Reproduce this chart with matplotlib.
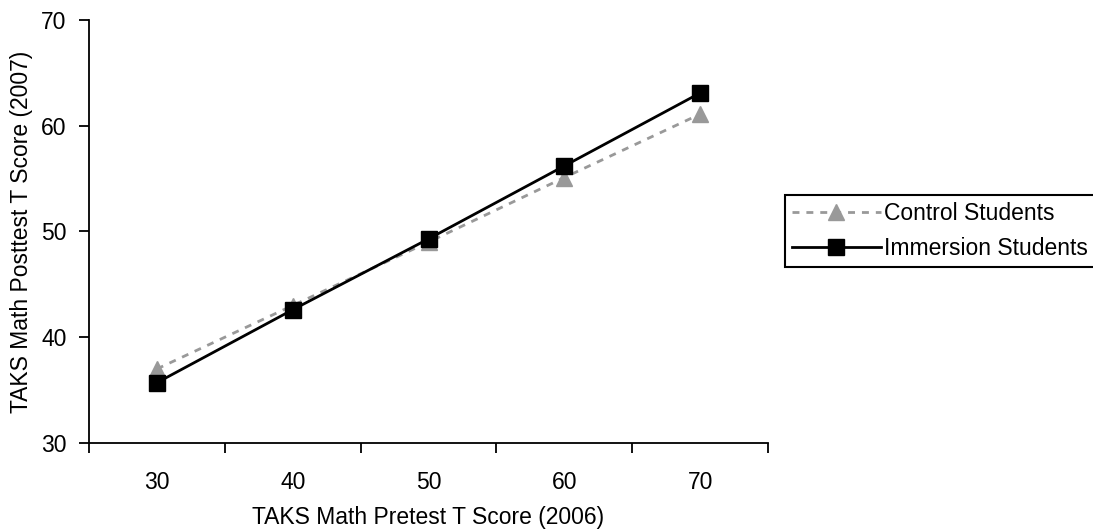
import matplotlib
matplotlib.use('Agg')
import matplotlib.pyplot as plt

# datos
pretest = ['30', '40', '50', '60', '70']
control = [37.0, 43.0, 49.0, 55.1, 61.1]
inmersion = [35.7, 42.6, 49.3, 56.2, 63.1]

plt.rcParams['font.family'] = ['Liberation Sans', 'DejaVu Sans']
plt.rcParams['font.size'] = 16.5

fig = plt.figure(figsize=(10.93, 5.29), dpi=100)
ax = fig.add_axes([0.0814, 0.1626, 0.6213, 0.7996])

x = list(range(len(pretest)))
ax.plot(x, control, color='#999999', linestyle=(0, (2.5, 2.5)), linewidth=2,
        marker='^', markersize=11, label='Control Students')
ax.plot(x, inmersion, color='black', linewidth=2,
        marker='s', markersize=11, label='Immersion Students')

ax.set_xlim(-0.5, len(pretest) - 0.5)
ax.set_ylim(30, 70)
ax.set_yticks([30, 40, 50, 60, 70])

# eje de categorias: marcas entre categorias, etiquetas centradas
ax.set_xticks([i - 0.5 for i in range(len(pretest) + 1)])
ax.set_xticklabels([])
ax.set_xticks(x, minor=True)
ax.set_xticklabels(pretest, minor=True)
ax.tick_params(axis='x', which='major', length=7, width=1.3, direction='out')
ax.tick_params(axis='x', which='minor', length=0, pad=20)
ax.tick_params(axis='y', length=7, width=1.3, direction='out', pad=9)

for lado in ['top', 'right']:
    ax.spines[lado].set_visible(False)
for lado in ['left', 'bottom']:
    ax.spines[lado].set_linewidth(1.3)

ax.set_xlabel('TAKS Math Pretest T Score (2006)', labelpad=9)
ax.set_ylabel('TAKS Math Posttest T Score (2007)', labelpad=6)

leg = fig.legend(loc='upper left', bbox_to_anchor=(0.718, 0.632),
                 frameon=True, fancybox=False, framealpha=1,
                 edgecolor='black', handlelength=3.9, handletextpad=0.15,
                 borderpad=0.3, labelspacing=0.55, borderaxespad=0)
leg.get_frame().set_linewidth(1.5)

fig.savefig('out.png', dpi=100)
plt.close()
